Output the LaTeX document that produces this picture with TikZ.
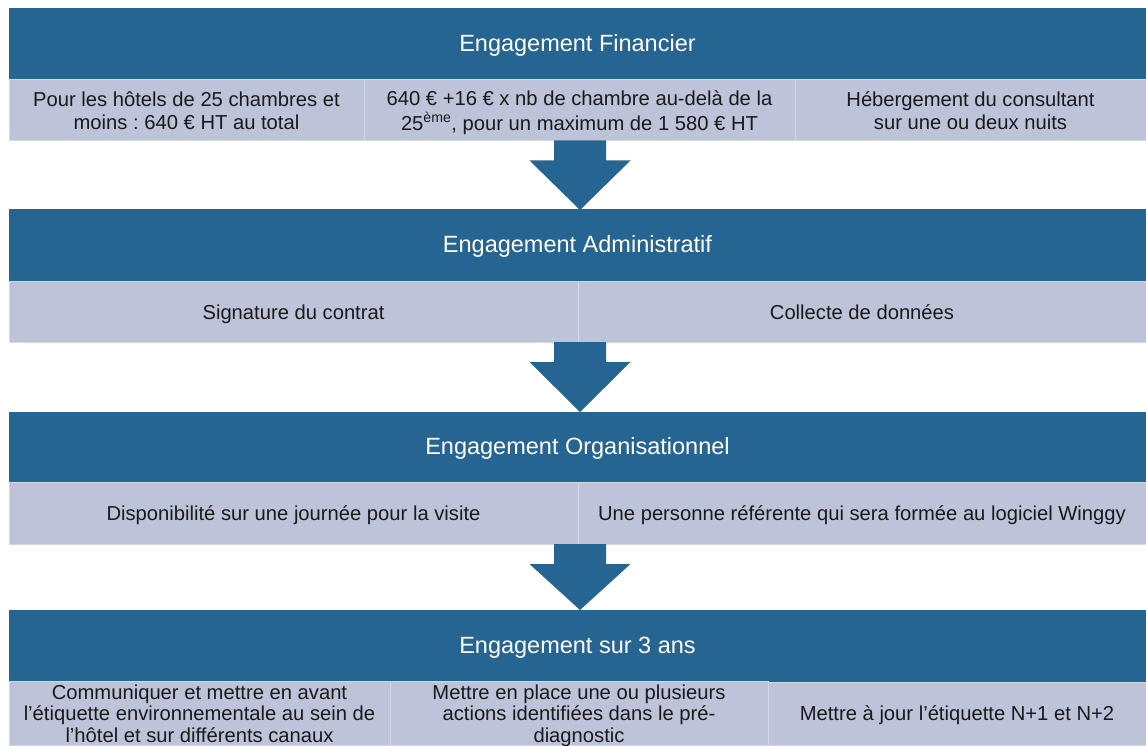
\documentclass[tikz,border=0pt]{standalone}
\usepackage{fontspec}
\setmainfont{Liberation Sans}
\usetikzlibrary{calc}
\frenchspacing
\definecolor{hdrblue}{RGB}{38,101,146}
\definecolor{cellfill}{RGB}{189,195,216}
\definecolor{cellline}{RGB}{212,216,230}
\definecolor{celltext}{RGB}{26,26,26}
\newcommand\hdrtext[1]{\raisebox{-2pt}[\height][\depth]{\strut #1}}
\newcommand\celltxt[1]{\raisebox{-3pt}[\height][\depth]{\begin{tabular}{@{}c@{}}#1\end{tabular}}}
\tikzset{
  hdr/.style={rectangle, fill=hdrblue, draw=hdrblue, line width=0pt, inner sep=0pt,
    minimum width=1137pt, minimum height=70pt, text=white,
    font=\fontsize{23.5}{27}\selectfont},
  cell/.style={rectangle, fill=cellfill, draw=cellline, line width=1pt, inner sep=0pt,
    text=celltext, font=\fontsize{20.2}{23}\selectfont},
  cellb/.style={cell, font=\fontsize{20.2}{21.5}\selectfont},
  arr/.style={fill=hdrblue, draw=none}
}
\begin{document}
\begin{tikzpicture}[x=1pt,y=-1pt]
\useasboundingbox[fill=white] (0,0) rectangle (1146,746);

% Band 1
\node[hdr] (h1) at (577.5,44) {\hdrtext{Engagement Financier}};
\node[cell, minimum width=355pt, minimum height=61pt] (c11) at (186.5,110.5)
  {\celltxt{Pour les hôtels de 25 chambres et\\moins : 640 € HT au total}};
\node[cell, minimum width=431pt, minimum height=61pt] (c12) at (579.5,110.5)
  {\celltxt{640 € +16 € x nb de chambre au-delà de la\\25\textsuperscript{ème}, pour un maximum de 1 580 € HT}};
\node[cell, minimum width=351pt, minimum height=61pt] (c13) at (970.5,110.5)
  {\celltxt{Hébergement du consultant\\sur une ou deux nuits}};

% Band 2
\node[hdr, minimum height=71pt] (h2) at (577.5,245.5) {\hdrtext{Engagement Administratif}};
\node[cell, minimum width=569pt, minimum height=61pt] (c21) at (293.5,311.5) {\celltxt{Signature du contrat}};
\node[cell, minimum width=568pt, minimum height=61pt] (c22) at (862,311.5) {\celltxt{Collecte de données}};

% Band 3
\node[hdr, minimum height=70pt] (h3) at (577.5,447) {\hdrtext{Engagement Organisationnel}};
\node[cell, minimum width=569pt, minimum height=62pt] (c31) at (293.5,513) {\celltxt{Disponibilité sur une journée pour la visite}};
\node[cell, minimum width=568pt, minimum height=62pt] (c32) at (862,513) {\celltxt{Une personne référente qui sera formée au logiciel Winggy}};

% Band 4
\node[hdr, minimum height=72pt] (h4) at (577.5,646) {\hdrtext{Engagement sur 3 ans}};
\node[cellb, minimum width=381pt, minimum height=63pt] (c41) at (199.5,713.5)
  {\celltxt{Communiquer et mettre en avant\\l’étiquette environnementale au sein de\\l’hôtel et sur différents canaux}};
\node[cellb, minimum width=378pt, minimum height=63pt] (c42) at (579,713.5)
  {\celltxt{Mettre en place une ou plusieurs\\actions identifiées dans le pré-\\diagnostic}};
\node[cellb, minimum width=378pt, minimum height=63pt] (c43) at (957,713.5)
  {\celltxt{Mettre à jour l’étiquette N+1 et N+2}};

% Arrows (block arrows between bands)
\coordinate (t1) at (580,140.5);
\coordinate (b1) at (580,210);
\coordinate (t2) at (580,342);
\coordinate (b2) at (580,412);
\coordinate (t3) at (580,544);
\coordinate (b3) at (580,610);
\foreach \t/\b in {t1/b1,t2/b2,t3/b3}{
  \fill[arr] ($(\t)+(-26,0)$) -- ($(\t)+(26,0)$) -- ($(\t)+(26,20)$) -- ($(\t)+(50.5,20)$)
    -- (\b) -- ($(\t)+(-50.5,20)$) -- ($(\t)+(-26,20)$) -- cycle;
}
\end{tikzpicture}
\end{document}
